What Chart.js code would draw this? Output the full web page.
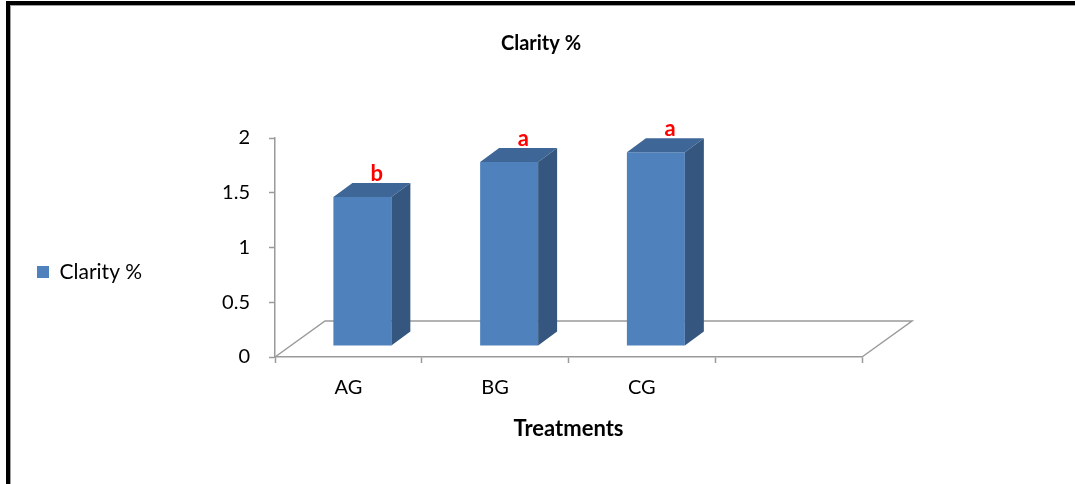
<!DOCTYPE html>
<html>
<head>
<meta charset="utf-8">
<script src="https://cdn.jsdelivr.net/npm/chart.js@4.4.1/dist/chart.umd.min.js"></script>
<style>
  html, body { margin: 0; padding: 0; background: #fff; }
  #wrap { width: 1075px; height: 484px; }
</style>
</head>
<body>
<div id="wrap"><canvas id="myChart" width="1075" height="484"></canvas></div>
<script>
// data
const categories = ["AG", "BG", "CG", ""];
const clarity = [1.36, 1.68, 1.77, null];
const sigLetters = ["b", "a", "a"];
const yTicks = [0, 0.5, 1, 1.5, 2];

const FONT = "Lato, 'Open Sans', sans-serif";
const depthX = 19, depthY = 14;       // bar extrusion
const shiftX = 14, shiftY = 11;       // bars sit a bit back on the floor
const floorX = 50, floorY = 36;       // floor depth

const bar3d = {
  id: "bar3d",
  afterLayout(chart) {
    // move the legend so it sits where Excel put it
    const lg = chart.legend;
    const mid = (lg.top + lg.bottom) / 2;
    const d = 272 - mid;
    lg.top += d;
    lg.bottom += d;
  },
  beforeDatasetsDraw(chart) {
    const ctx = chart.ctx;
    const a = chart.chartArea;
    // floor
    ctx.save();
    ctx.strokeStyle = "#9a9a9a";
    ctx.lineWidth = 1.5;
    ctx.beginPath();
    ctx.moveTo(a.left, a.bottom);
    ctx.lineTo(a.left + floorX, a.bottom - floorY);
    ctx.lineTo(a.right + floorX, a.bottom - floorY);
    ctx.lineTo(a.right, a.bottom);
    ctx.stroke();
    ctx.restore();
    ctx.save();
    ctx.translate(shiftX, -shiftY);
  },
  afterDatasetsDraw(chart) {
    const ctx = chart.ctx;
    const meta = chart.getDatasetMeta(0);
    meta.data.forEach(function (el, i) {
      if (clarity[i] == null) return;
      const p = el.getProps(["x", "y", "base", "width"], true);
      const l = p.x - p.width / 2, r = p.x + p.width / 2;
      // top
      ctx.fillStyle = "#3E6797";
      ctx.beginPath();
      ctx.moveTo(l, p.y);
      ctx.lineTo(l + depthX, p.y - depthY);
      ctx.lineTo(r + depthX, p.y - depthY);
      ctx.lineTo(r, p.y);
      ctx.closePath();
      ctx.fill();
      // side
      ctx.fillStyle = "#35577F";
      ctx.beginPath();
      ctx.moveTo(r, p.y);
      ctx.lineTo(r + depthX, p.y - depthY);
      ctx.lineTo(r + depthX, p.base - depthY);
      ctx.lineTo(r, p.base);
      ctx.closePath();
      ctx.fill();
      // letters
      ctx.fillStyle = "#FF0000";
      ctx.font = "bold 22px " + FONT;
      ctx.textAlign = "center";
      ctx.textBaseline = "bottom";
      ctx.fillText(sigLetters[i], p.x + depthX * 0.75, p.y - depthY + 2);
    });
    ctx.restore();
  },
  afterDraw(chart) {
    const ctx = chart.ctx;
    ctx.save();
    ctx.fillStyle = "#000";
    ctx.fillRect(6, 1, 4, 483);
    ctx.fillRect(6, 1, 1069, 4);
    ctx.fillStyle = "#a0a0a0";
    ctx.fillRect(10, 5, 1, 479);
    ctx.fillRect(10, 5, 1065, 1);
    ctx.restore();
  },
};

const ctx = document.getElementById("myChart");

new Chart(ctx, {
  type: "bar",
  data: {
    labels: categories,
    datasets: [
      {
        label: "Clarity %",
        data: clarity,
        backgroundColor: "#4F81BD",
        borderWidth: 0,
        categoryPercentage: 1,
        barPercentage: 0.395,
      },
    ],
  },
  options: {
    responsive: false,
    animation: false,
    layout: { padding: { left: 7, right: 0, top: 0, bottom: 0 } },
    scales: {
      x: {
        offset: true,
        grid: {
          offset: true,
          drawOnChartArea: false,
          color: "#9a9a9a",
          tickLength: 6,
          tickWidth: 1.5,
        },
        border: { color: "#9a9a9a", width: 1.5 },
        ticks: {
          color: "#000",
          padding: 13,
          font: { size: 20, family: FONT },
        },
        title: {
          display: true,
          text: "Treatments",
          color: "#000",
          font: { size: 22, weight: "bold", family: FONT },
          padding: { top: 0, bottom: 42 },
        },
        afterFit: function (scale) {
          scale.height = 127;
        },
      },
      y: {
        min: 0,
        max: 2,
        afterBuildTicks: function (scale) {
          scale.ticks = yTicks.map(function (v) { return { value: v }; });
        },
        grid: {
          drawOnChartArea: false,
          color: "#9a9a9a",
          tickLength: 6,
          tickWidth: 1.5,
        },
        border: { color: "#9a9a9a", width: 1.5 },
        ticks: {
          color: "#000",
          padding: 19,
          font: { size: 20, family: FONT },
          callback: function (v) { return String(v); },
        },
        afterFit: function (scale) {
          const lw = scale.chart.legend ? scale.chart.legend.width : 0;
          scale.width = 275 - 7 - lw;
        },
      },
      // empty space on the right, keeps the title centred on the page
      spacer: {
        type: "linear",
        position: "right",
        grid: { display: false },
        border: { display: false },
        ticks: { display: false },
        afterFit: function (scale) {
          scale.width = 1075 - 862;
        },
      },
    },
    plugins: {
      title: {
        display: true,
        text: "Clarity %",
        color: "#000",
        font: { size: 20, weight: "bold", family: FONT },
        padding: { top: 32, bottom: 82 },
      },
      legend: {
        position: "left",
        labels: {
          color: "#000",
          boxWidth: 12,
          boxHeight: 12,
          padding: 30,
          font: { size: 21, family: FONT },
        },
      },
      tooltip: { enabled: false },
    },
  },
  plugins: [bar3d],
});
</script>
</body>
</html>
